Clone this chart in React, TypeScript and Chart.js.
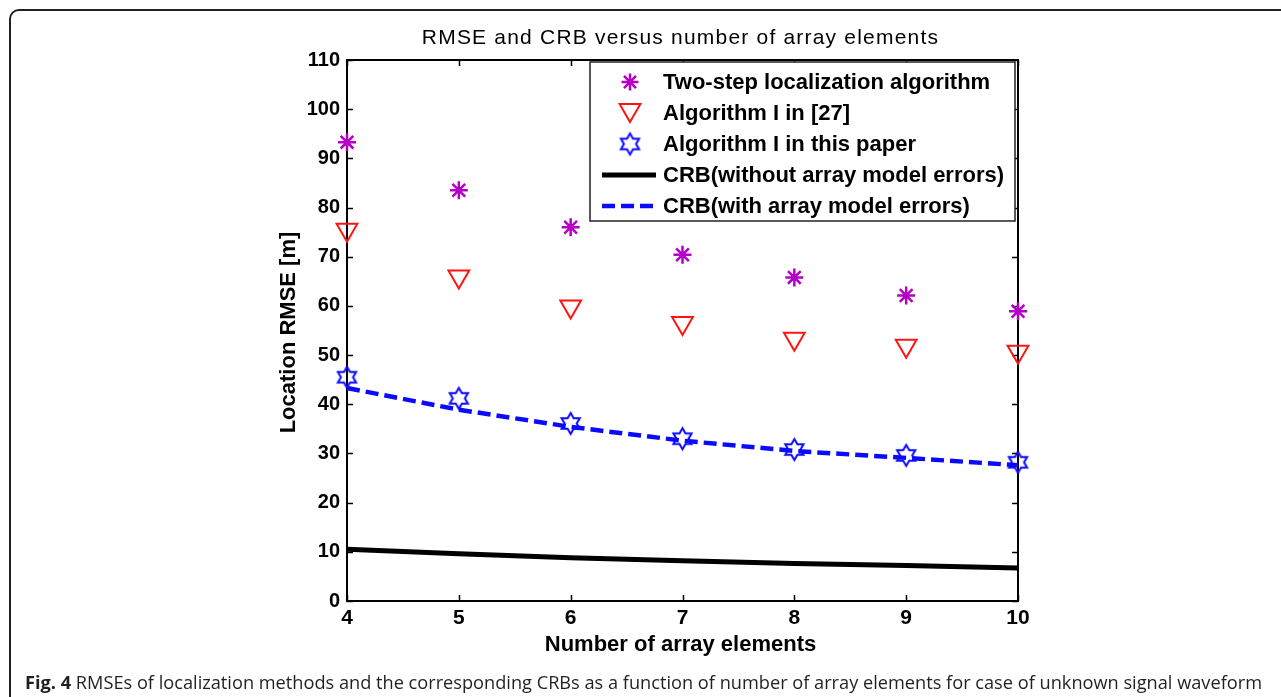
import React, { useEffect, useRef } from 'react';
import { Chart, registerables } from 'chart.js';

Chart.register(...registerables);

// ---------- data ----------
const elements = [4, 5, 6, 7, 8, 9, 10];
const twoStep = [93.3, 83.5, 76.0, 70.4, 65.8, 62.1, 58.9];
const alg27 = [75.5, 66.0, 59.9, 56.5, 53.3, 51.9, 50.7];
const algThis = [45.5, 41.2, 36.1, 33.0, 30.8, 29.6, 28.2];
const crbWithout = [10.5, 9.6, 8.8, 8.2, 7.6, 7.2, 6.7];
const crbWith = [43.3, 38.9, 35.4, 32.6, 30.5, 29.1, 27.6];

const seriesNames = [
  'Two-step localization algorithm',
  'Algorithm I in [27]',
  'Algorithm I in this paper',
  'CRB(without array model errors)',
  'CRB(with array model errors)',
];
const titleText = 'RMSE and CRB versus number of array elements';
const xLabel = 'Number of array elements';
const yLabel = 'Location RMSE [m]';
const captionBold = 'Fig. 4';
const captionText =
  'RMSEs of localization methods and the corresponding CRBs as a function of number of array elements for case of unknown signal waveform';

const MAGENTA = '#b400c4';
const RED = '#ff1414';
const BLUE = '#0a0aff';
const FONT = '"Liberation Sans", Arial, Helvetica, sans-serif';

function makeHexagram(color: string, r: number, lw: number) {
  const size = Math.ceil(2 * r + lw * 2 + 2);
  const c = document.createElement('canvas');
  c.width = size;
  c.height = size;
  const ctx = c.getContext('2d')!;
  const cx = size / 2;
  const cy = size / 2;
  const ri = r / Math.sqrt(3);
  ctx.beginPath();
  for (let i = 0; i < 12; i++) {
    const a = -Math.PI / 2 + (i * Math.PI) / 6;
    const rr = i % 2 === 0 ? r : ri;
    const px = cx + rr * Math.cos(a);
    const py = cy + rr * Math.sin(a);
    if (i === 0) ctx.moveTo(px, py);
    else ctx.lineTo(px, py);
  }
  ctx.closePath();
  ctx.strokeStyle = color;
  ctx.lineWidth = lw;
  ctx.stroke();
  return c;
}

const pts = (ys: number[]) => elements.map((x, i) => ({ x, y: ys[i] }));

export default function App() {
  const ref = useRef<HTMLCanvasElement>(null);

  useEffect(() => {
    const hex = makeHexagram(BLUE, 10.5, 2);

    const decor = {
      id: 'decor',
      beforeDatasetsDraw(chart: any) {
        const { ctx, chartArea: a, scales } = chart;
        ctx.save();
        ctx.strokeStyle = '#000';
        ctx.lineWidth = 2;
        ctx.strokeRect(a.left, a.top, a.right - a.left, a.bottom - a.top);
        ctx.lineWidth = 1.5;
        const tl = 6;
        ctx.beginPath();
        scales.y.ticks.forEach((_t: any, i: number) => {
          const py = Math.round(scales.y.getPixelForTick(i)) + 0.5;
          ctx.moveTo(a.left, py);
          ctx.lineTo(a.left + tl, py);
          ctx.moveTo(a.right, py);
          ctx.lineTo(a.right - tl, py);
        });
        scales.x.ticks.forEach((_t: any, i: number) => {
          const px = Math.round(scales.x.getPixelForTick(i)) + 0.5;
          ctx.moveTo(px, a.bottom);
          ctx.lineTo(px, a.bottom - tl);
          ctx.moveTo(px, a.top);
          ctx.lineTo(px, a.top + tl);
        });
        ctx.stroke();
        ctx.restore();
      },
      afterDatasetsDraw(chart: any) {
        const { ctx } = chart;
        ctx.save();
        // legend box
        const bx = 590, by = 62, bw = 425, bh = 159;
        ctx.fillStyle = '#fff';
        ctx.fillRect(bx, by, bw, bh);
        ctx.strokeStyle = '#222';
        ctx.lineWidth = 1.5;
        ctx.strokeRect(bx, by, bw, bh);
        const rows = [82, 113, 144, 175, 206];
        const mx = 630;
        // asterisk
        {
          const y = rows[0];
          const r = 8.5;
          ctx.strokeStyle = MAGENTA;
          ctx.lineWidth = 2.5;
          ctx.beginPath();
          for (let k = 0; k < 4; k++) {
            const ang = (k * Math.PI) / 4;
            ctx.moveTo(mx - r * Math.cos(ang), y - r * Math.sin(ang));
            ctx.lineTo(mx + r * Math.cos(ang), y + r * Math.sin(ang));
          }
          ctx.stroke();
        }
        // triangle down
        {
          const y = rows[1] - 3;
          const r = 12;
          ctx.strokeStyle = RED;
          ctx.lineWidth = 2;
          ctx.beginPath();
          ctx.moveTo(mx, y + r);
          ctx.lineTo(mx - r * Math.sin(Math.PI / 3), y - r / 2);
          ctx.lineTo(mx + r * Math.sin(Math.PI / 3), y - r / 2);
          ctx.closePath();
          ctx.stroke();
        }
        // hexagram
        ctx.drawImage(hex, mx - hex.width / 2, rows[2] - hex.height / 2);
        // solid line
        ctx.strokeStyle = '#000';
        ctx.lineWidth = 5;
        ctx.beginPath();
        ctx.moveTo(602, rows[3]);
        ctx.lineTo(656, rows[3]);
        ctx.stroke();
        // dashed line
        ctx.strokeStyle = BLUE;
        ctx.lineWidth = 4.5;
        ctx.setLineDash([13, 6]);
        ctx.beginPath();
        ctx.moveTo(602, rows[4]);
        ctx.lineTo(656, rows[4]);
        ctx.stroke();
        ctx.setLineDash([]);
        // texts
        ctx.fillStyle = '#000';
        ctx.font = `bold 22px ${FONT}`;
        ctx.textAlign = 'left';
        ctx.textBaseline = 'middle';
        seriesNames.forEach((n, i) => ctx.fillText(n, 663, rows[i] + 1));
        ctx.restore();
      },
      afterDraw(chart: any) {
        const { ctx, chartArea: a } = chart;
        ctx.save();
        ctx.fillStyle = '#000';
        ctx.textAlign = 'center';
        ctx.textBaseline = 'middle';
        // title
        ctx.font = `21px ${FONT}`;
        (ctx as any).letterSpacing = '1.2px';
        ctx.fillText(titleText, (a.left + a.right) / 2 - 2, 38);
        (ctx as any).letterSpacing = '0px';
        // x label
        ctx.font = `bold 22px ${FONT}`;
        ctx.fillText(xLabel, (a.left + a.right) / 2 - 2, 645);
        // y label
        ctx.translate(289, (a.top + a.bottom) / 2 + 2);
        ctx.rotate(-Math.PI / 2);
        ctx.fillText(yLabel, 0, 0);
        ctx.restore();
      },
    };

    const chart = new Chart(ref.current!, {
      type: 'scatter',
      data: {
        datasets: [
          {
            label: seriesNames[0],
            data: pts(twoStep),
            pointStyle: 'star',
            pointRadius: 9,
            pointBorderWidth: 2.5,
            borderColor: MAGENTA,
            backgroundColor: MAGENTA,
            showLine: false,
            clip: false as any,
          },
          {
            label: seriesNames[1],
            data: pts(alg27),
            pointStyle: 'triangle',
            rotation: 180,
            pointRadius: 12,
            pointBorderWidth: 2,
            borderColor: RED,
            backgroundColor: 'rgba(0,0,0,0)',
            showLine: false,
            clip: false as any,
          },
          {
            label: seriesNames[2],
            data: pts(algThis),
            pointStyle: hex as any,
            pointRadius: 10,
            borderColor: BLUE,
            backgroundColor: BLUE,
            showLine: false,
            clip: false as any,
          },
          {
            label: seriesNames[3],
            data: pts(crbWithout),
            showLine: true,
            pointRadius: 0,
            borderColor: '#000',
            borderWidth: 5,
            clip: false as any,
          },
          {
            label: seriesNames[4],
            data: pts(crbWith),
            showLine: true,
            pointRadius: 0,
            borderColor: BLUE,
            borderWidth: 4.5,
            borderDash: [13, 6],
            clip: false as any,
          },
        ],
      },
      options: {
        animation: false,
        responsive: false,
        devicePixelRatio: 1,
        layout: { padding: { left: 290, right: 263, top: 60, bottom: 56 } },
        plugins: {
          legend: { display: false },
          title: { display: false },
          tooltip: { enabled: false },
        },
        scales: {
          x: {
            type: 'linear',
            min: 4,
            max: 10,
            grid: { display: false, drawTicks: false },
            border: { display: false },
            ticks: {
              stepSize: 1,
              padding: 5,
              color: '#000',
              font: { family: FONT, size: 21, weight: 'bold' },
              maxRotation: 0,
            },
            afterFit: (s: any) => {
              s.height = 40;
            },
          },
          y: {
            type: 'linear',
            min: 0,
            max: 110,
            grid: { display: false, drawTicks: false },
            border: { display: false },
            ticks: {
              stepSize: 10,
              padding: 7,
              color: '#000',
              font: { family: FONT, size: 20, weight: 'bold' },
            },
            afterFit: (s: any) => {
              s.width = 57;
            },
          },
        },
      },
      plugins: [decor],
    });
    return () => chart.destroy();
  }, []);

  return (
    <div
      style={{
        position: 'fixed',
        left: 0,
        top: 0,
        width: 1281,
        height: 697,
        overflow: 'hidden',
        background: '#fff',
      }}
    >
      <div
        style={{
          position: 'absolute',
          left: 9,
          top: 9,
          width: 1320,
          height: 720,
          border: '2px solid #222',
          borderRadius: 10,
          boxSizing: 'border-box',
        }}
      />
      <canvas
        ref={ref}
        width={1281}
        height={697}
        style={{ position: 'absolute', left: 0, top: 0, width: 1281, height: 697 }}
      />
      <div
        style={{
          position: 'absolute',
          left: 25,
          top: 669,
          fontFamily: '"Open Sans", "Noto Sans", sans-serif',
          fontSize: 18.2,
          lineHeight: '26px',
          color: '#231f20',
          whiteSpace: 'nowrap',
        }}
      >
        <b>{captionBold}</b> {captionText}
      </div>
    </div>
  );
}
